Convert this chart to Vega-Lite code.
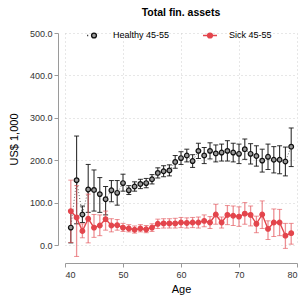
{
  "$schema": "https://vega.github.io/schema/vega-lite/v6.json",
  "autosize": {"type": "none"},
  "width": 232,
  "height": 212,
  "padding": {"left": 65, "top": 33, "right": 5, "bottom": 51},
  "background": "white",
  "title": {"text": "Total fin. assets", "font": "Liberation Sans", "fontSize": 10.5, "fontWeight": "bold", "color": "black", "anchor": "middle", "offset": 9},
  "config": {
    "view": {"stroke": null},
    "axis": {
      "domainColor": "#9a9a9a", "tickColor": "#9a9a9a", "labelColor": "#333333",
      "labelFont": "Liberation Sans", "labelFontSize": 9,
      "titleFont": "Liberation Sans", "titleFontSize": 11, "titleFontWeight": "normal", "titleColor": "black",
      "gridColor": "#cfcfcf", "gridDash": [1, 3], "gridWidth": 1, "tickSize": 4
    },
    "legend": {
      "title": null, "orient": "none", "legendX": 21, "legendY": -6, "direction": "horizontal",
      "symbolSize": 196, "symbolStrokeWidth": 1.3, "labelFont": "Liberation Sans", "labelFontSize": 9, "labelColor": "black",
      "labelOffset": 11, "columnPadding": 30
    }
  },
  "data": {"values": [
    {"age": 41, "group": "Healthy 45-55", "v": 41, "lo": 5, "hi": 80},
    {"age": 42, "group": "Healthy 45-55", "v": 153, "lo": 50, "hi": 257},
    {"age": 43, "group": "Healthy 45-55", "v": 72, "lo": 53, "hi": 92},
    {"age": 44, "group": "Healthy 45-55", "v": 131, "lo": 77, "hi": 190},
    {"age": 45, "group": "Healthy 45-55", "v": 130, "lo": 80, "hi": 177},
    {"age": 46, "group": "Healthy 45-55", "v": 120, "lo": 77, "hi": 159},
    {"age": 47, "group": "Healthy 45-55", "v": 108, "lo": 71, "hi": 138},
    {"age": 48, "group": "Healthy 45-55", "v": 129, "lo": 102, "hi": 152},
    {"age": 49, "group": "Healthy 45-55", "v": 123, "lo": 94, "hi": 152},
    {"age": 50, "group": "Healthy 45-55", "v": 146, "lo": 127, "hi": 167},
    {"age": 51, "group": "Healthy 45-55", "v": 129, "lo": 119, "hi": 140},
    {"age": 52, "group": "Healthy 45-55", "v": 138, "lo": 127, "hi": 149},
    {"age": 53, "group": "Healthy 45-55", "v": 144, "lo": 133, "hi": 155},
    {"age": 54, "group": "Healthy 45-55", "v": 146, "lo": 135, "hi": 157},
    {"age": 55, "group": "Healthy 45-55", "v": 155, "lo": 144, "hi": 166},
    {"age": 56, "group": "Healthy 45-55", "v": 170, "lo": 158, "hi": 182},
    {"age": 57, "group": "Healthy 45-55", "v": 174, "lo": 161, "hi": 187},
    {"age": 58, "group": "Healthy 45-55", "v": 176, "lo": 163, "hi": 189},
    {"age": 59, "group": "Healthy 45-55", "v": 196, "lo": 181, "hi": 211},
    {"age": 60, "group": "Healthy 45-55", "v": 205, "lo": 190, "hi": 220},
    {"age": 61, "group": "Healthy 45-55", "v": 211, "lo": 196, "hi": 226},
    {"age": 62, "group": "Healthy 45-55", "v": 198, "lo": 183, "hi": 213},
    {"age": 63, "group": "Healthy 45-55", "v": 222, "lo": 204, "hi": 240},
    {"age": 64, "group": "Healthy 45-55", "v": 211, "lo": 192, "hi": 230},
    {"age": 65, "group": "Healthy 45-55", "v": 222, "lo": 203, "hi": 241},
    {"age": 66, "group": "Healthy 45-55", "v": 216, "lo": 196, "hi": 236},
    {"age": 67, "group": "Healthy 45-55", "v": 218, "lo": 198, "hi": 238},
    {"age": 68, "group": "Healthy 45-55", "v": 222, "lo": 198, "hi": 246},
    {"age": 69, "group": "Healthy 45-55", "v": 218, "lo": 196, "hi": 240},
    {"age": 70, "group": "Healthy 45-55", "v": 215, "lo": 192, "hi": 238},
    {"age": 71, "group": "Healthy 45-55", "v": 226, "lo": 202, "hi": 250},
    {"age": 72, "group": "Healthy 45-55", "v": 215, "lo": 191, "hi": 239},
    {"age": 73, "group": "Healthy 45-55", "v": 210, "lo": 186, "hi": 234},
    {"age": 74, "group": "Healthy 45-55", "v": 199, "lo": 172, "hi": 226},
    {"age": 75, "group": "Healthy 45-55", "v": 208, "lo": 178, "hi": 238},
    {"age": 76, "group": "Healthy 45-55", "v": 201, "lo": 170, "hi": 232},
    {"age": 77, "group": "Healthy 45-55", "v": 201, "lo": 168, "hi": 234},
    {"age": 78, "group": "Healthy 45-55", "v": 197, "lo": 163, "hi": 231},
    {"age": 79, "group": "Healthy 45-55", "v": 232, "lo": 185, "hi": 276},
    {"age": 41, "group": "Sick 45-55", "v": 80, "lo": 6, "hi": 153},
    {"age": 42, "group": "Sick 45-55", "v": 65, "lo": -27, "hi": 140},
    {"age": 43, "group": "Sick 45-55", "v": 33, "lo": 17, "hi": 50},
    {"age": 44, "group": "Sick 45-55", "v": 62, "lo": 5, "hi": 120},
    {"age": 45, "group": "Sick 45-55", "v": 41, "lo": 18, "hi": 72},
    {"age": 46, "group": "Sick 45-55", "v": 46, "lo": 22, "hi": 71},
    {"age": 47, "group": "Sick 45-55", "v": 61, "lo": 35, "hi": 80},
    {"age": 48, "group": "Sick 45-55", "v": 46, "lo": 31, "hi": 62},
    {"age": 49, "group": "Sick 45-55", "v": 47, "lo": 35, "hi": 60},
    {"age": 50, "group": "Sick 45-55", "v": 41, "lo": 32, "hi": 51},
    {"age": 51, "group": "Sick 45-55", "v": 39, "lo": 31, "hi": 48},
    {"age": 52, "group": "Sick 45-55", "v": 36, "lo": 28, "hi": 45},
    {"age": 53, "group": "Sick 45-55", "v": 39, "lo": 31, "hi": 48},
    {"age": 54, "group": "Sick 45-55", "v": 37, "lo": 29, "hi": 46},
    {"age": 55, "group": "Sick 45-55", "v": 41, "lo": 32, "hi": 50},
    {"age": 56, "group": "Sick 45-55", "v": 50, "lo": 39, "hi": 61},
    {"age": 57, "group": "Sick 45-55", "v": 51, "lo": 40, "hi": 62},
    {"age": 58, "group": "Sick 45-55", "v": 51, "lo": 40, "hi": 62},
    {"age": 59, "group": "Sick 45-55", "v": 51, "lo": 40, "hi": 63},
    {"age": 60, "group": "Sick 45-55", "v": 53, "lo": 41, "hi": 65},
    {"age": 61, "group": "Sick 45-55", "v": 52, "lo": 40, "hi": 64},
    {"age": 62, "group": "Sick 45-55", "v": 53, "lo": 41, "hi": 65},
    {"age": 63, "group": "Sick 45-55", "v": 53, "lo": 40, "hi": 66},
    {"age": 64, "group": "Sick 45-55", "v": 57, "lo": 43, "hi": 71},
    {"age": 65, "group": "Sick 45-55", "v": 53, "lo": 39, "hi": 67},
    {"age": 66, "group": "Sick 45-55", "v": 72, "lo": 49, "hi": 96},
    {"age": 67, "group": "Sick 45-55", "v": 53, "lo": 40, "hi": 66},
    {"age": 68, "group": "Sick 45-55", "v": 71, "lo": 48, "hi": 93},
    {"age": 69, "group": "Sick 45-55", "v": 69, "lo": 46, "hi": 92},
    {"age": 70, "group": "Sick 45-55", "v": 67, "lo": 44, "hi": 90},
    {"age": 71, "group": "Sick 45-55", "v": 74, "lo": 49, "hi": 100},
    {"age": 72, "group": "Sick 45-55", "v": 71, "lo": 45, "hi": 92},
    {"age": 73, "group": "Sick 45-55", "v": 50, "lo": 29, "hi": 68},
    {"age": 74, "group": "Sick 45-55", "v": 72, "lo": 39, "hi": 104},
    {"age": 75, "group": "Sick 45-55", "v": 38, "lo": 13, "hi": 57},
    {"age": 76, "group": "Sick 45-55", "v": 53, "lo": 20, "hi": 85},
    {"age": 77, "group": "Sick 45-55", "v": 53, "lo": 22, "hi": 84},
    {"age": 78, "group": "Sick 45-55", "v": 22, "lo": -8, "hi": 51},
    {"age": 79, "group": "Sick 45-55", "v": 28, "lo": 2, "hi": 51}
  ]},
  "encoding": {
    "x": {"field": "age", "type": "quantitative", "scale": {"domain": [40, 80], "nice": false, "zero": false},
      "axis": {"values": [40, 50, 60, 70, 80], "title": "Age", "offset": 18, "labelPadding": 3, "titlePadding": 4}}
  },
  "layer": [
    {
      "transform": [{"filter": "datum.group === 'Healthy 45-55'"}],
      "mark": {"type": "line", "color": "#444444", "strokeWidth": 0.8, "strokeDash": [1, 2]},
      "encoding": {
        "y": {"field": "v", "type": "quantitative", "scale": {"domain": [0, 500], "nice": false},
          "axis": {"values": [0, 100, 200, 300, 400, 500], "format": ".1f", "title": "US$ 1,000", "offset": 7, "labelPadding": 2, "titlePadding": 10}}
      }
    },
    {
      "transform": [{"filter": "datum.group === 'Healthy 45-55'"}],
      "mark": {"type": "errorbar", "color": "#1a1a1a", "opacity": 0.9, "ticks": {"size": 5}, "rule": {"strokeWidth": 1.1}},
      "encoding": {
        "y": {"field": "lo", "type": "quantitative", "title": "US$ 1,000"},
        "y2": {"field": "hi"}
      }
    },
    {
      "transform": [{"filter": "datum.group === 'Sick 45-55'"}],
      "mark": {"type": "errorbar", "color": "#e3545a", "opacity": 0.65, "ticks": {"size": 5}, "rule": {"strokeWidth": 1.3}},
      "encoding": {
        "y": {"field": "lo", "type": "quantitative", "title": "US$ 1,000"},
        "y2": {"field": "hi"}
      }
    },
    {
      "transform": [{"filter": "datum.group === 'Sick 45-55'"}],
      "mark": {"type": "line", "color": "#e3454c", "strokeWidth": 1.4},
      "encoding": {
        "y": {"field": "v", "type": "quantitative", "title": "US$ 1,000"}
      }
    },
    {
      "mark": {"type": "point", "shape": "circle", "size": 22, "strokeWidth": 1.2, "opacity": 1},
      "encoding": {
        "y": {"field": "v", "type": "quantitative", "title": "US$ 1,000"},
        "stroke": {"field": "group", "type": "nominal",
          "scale": {"domain": ["Healthy 45-55", "Sick 45-55"], "range": ["#111111", "#e3454c"]}},
        "fill": {"field": "group", "type": "nominal",
          "scale": {"domain": ["Healthy 45-55", "Sick 45-55"], "range": ["#9a9a9a", "#e3454c"]}}
      }
    },
    {
      "transform": [{"filter": "false"}],
      "mark": {"type": "point", "size": 22, "strokeWidth": 1.2, "opacity": 1},
      "encoding": {
        "y": {"field": "v", "type": "quantitative", "title": "US$ 1,000"},
        "stroke": {"field": "group", "type": "nominal"},
        "fill": {"field": "group", "type": "nominal"},
        "shape": {"field": "group", "type": "nominal",
          "scale": {"domain": ["Healthy 45-55", "Sick 45-55"],
            "range": ["M-0.97,0L-0.83,0M0.35,0A0.35,0.35 0 1,1 -0.35,0A0.35,0.35 0 1,1 0.35,0Z", "M-1,0L1,0M0.35,0A0.35,0.35 0 1,1 -0.35,0A0.35,0.35 0 1,1 0.35,0Z"]}}
      }
    }
  ]
}
